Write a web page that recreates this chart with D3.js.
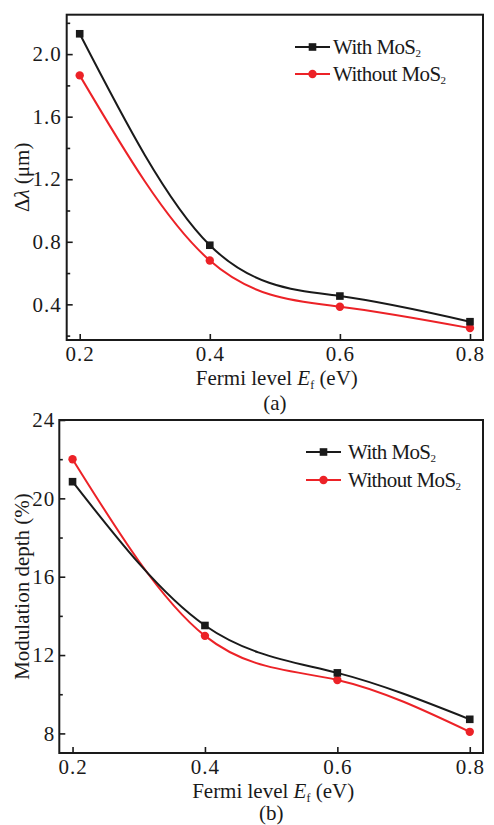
<html>
    <head>
        <style>
            body { margin: 0; background: #fff; }
            svg text { font-family: "Liberation Serif", "Times New Roman", serif; fill: #1a1a1a; }
            .axis path { display: none; }
            .axis line { stroke: #1a1a1a; stroke-width: 1.6; }
            .axis text { font-size: 21px; letter-spacing: 1px; }
            .box { fill: none; stroke: #1a1a1a; stroke-width: 2; }
        </style>
    </head>
    <body>
        <svg class="chart" width="494" height="825"></svg>
        <script src="https://d3js.org/d3.v7.min.js"></script>
        <script>
            // Fermi level (eV)
            var fermi = [0.2, 0.4, 0.6, 0.8];
            var xTicks = [0.2, 0.4, 0.6, 0.8];

            // (a) delta lambda (um)
            var dlWith = [2.13, 0.778, 0.453, 0.289];
            var dlWithout = [1.864, 0.68, 0.385, 0.248];
            var dlTicks = [0.4, 0.8, 1.2, 1.6, 2.0];
            var dlMinor = [0.2, 0.6, 1.0, 1.4, 1.8, 2.2];

            // (b) modulation depth (%)
            var mdWith = [20.85, 13.51, 11.09, 8.72];
            var mdWithout = [22.0, 12.98, 10.73, 8.08];
            var mdTicks = [8, 12, 16, 20, 24];
            var mdMinor = [10, 14, 18, 22];

            var seriesNames = ['With MoS', 'Without MoS'];
            var black = '#1a1a1a', red = '#ec2227';

            var svg = d3.select('.chart');

            function panel(opt) {
                var x = d3.scaleLinear().domain([0.18, 0.82]).range([opt.left, opt.right]);
                var y = d3.scaleLinear().domain(opt.yDomain).range([opt.bottom, opt.top]);
                var g = svg.append('g');

                // minor y ticks
                g.append('g').attr('class', 'axis')
                    .attr('transform', 'translate(' + opt.left + ',0)')
                    .call(d3.axisLeft(y).tickValues(opt.minor).tickSizeInner(-3.5).tickSizeOuter(0).tickFormat(''));

                g.append('g').attr('class', 'axis')
                    .attr('transform', 'translate(' + opt.left + ',0)')
                    .call(d3.axisLeft(y).tickValues(opt.ticks).tickSizeInner(-6).tickSizeOuter(0)
                        .tickPadding(opt.yPad).tickFormat(opt.fmt));

                g.append('g').attr('class', 'axis')
                    .attr('transform', 'translate(0,' + opt.bottom + ')')
                    .call(d3.axisBottom(x).tickValues(xTicks).tickSizeInner(-6).tickSizeOuter(0)
                        .tickPadding(6).tickFormat(d3.format('.1f')));

                g.append('rect').attr('class', 'box')
                    .attr('x', opt.left).attr('y', opt.top)
                    .attr('width', opt.right - opt.left).attr('height', opt.bottom - opt.top);

                var line = d3.line()
                    .x(function(d, i) { return x(fermi[i]); })
                    .y(function(d) { return y(d); })
                    .curve(d3.curveNatural);

                g.append('path').datum(opt.without)
                    .attr('d', line).attr('fill', 'none').attr('stroke', red).attr('stroke-width', 2);
                g.append('path').datum(opt.with)
                    .attr('d', line).attr('fill', 'none').attr('stroke', black).attr('stroke-width', 2);

                g.selectAll('.pt-r').data(opt.without).enter().append('circle')
                    .attr('cx', function(d, i) { return x(fermi[i]); })
                    .attr('cy', function(d) { return y(d); })
                    .attr('r', 4.2).attr('fill', red);
                g.selectAll('.pt-b').data(opt.with).enter().append('rect')
                    .attr('x', function(d, i) { return x(fermi[i]) - 3.8; })
                    .attr('y', function(d) { return y(d) - 3.8; })
                    .attr('width', 7.6).attr('height', 7.6).attr('fill', black);

                // x title
                var xt = g.append('text').attr('x', (opt.left + opt.right) / 2 + 2).attr('y', opt.bottom + 45)
                    .attr('text-anchor', 'middle').style('font-size', '21px');
                xt.append('tspan').text('Fermi level ');
                xt.append('tspan').style('font-style', 'italic').text('E');
                xt.append('tspan').attr('dy', '0.3em').style('font-size', '12px').text('f');
                xt.append('tspan').attr('dy', '-0.18em').text(' (eV)');

                g.append('text').attr('x', (opt.left + opt.right) / 2).attr('y', opt.bottom + opt.tagDy)
                    .attr('text-anchor', 'middle').style('font-size', '21px').text(opt.tag);

                // y title
                var yt = g.append('text')
                    .attr('transform', 'translate(29,' + (opt.top + opt.bottom) / 2 + ') rotate(-90)')
                    .attr('text-anchor', 'middle').style('font-size', '21px');
                opt.yTitle(yt);

                // legend
                var cols = [black, red];
                seriesNames.forEach(function(name, i) {
                    var ly = opt.legY + i * opt.legGap;
                    g.append('line').attr('x1', opt.legX).attr('x2', opt.legX + 35)
                        .attr('y1', ly).attr('y2', ly).attr('stroke', cols[i]).attr('stroke-width', 2);
                    if (i === 0) {
                        g.append('rect').attr('x', opt.legX + 17.5 - 3.8).attr('y', ly - 3.8)
                            .attr('width', 7.6).attr('height', 7.6).attr('fill', black);
                    } else {
                        g.append('circle').attr('cx', opt.legX + 17.5).attr('cy', ly).attr('r', 4.2).attr('fill', red);
                    }
                    var t = g.append('text').attr('x', opt.legX + opt.legText).attr('y', ly + 7)
                        .style('font-size', '21px').style('letter-spacing', '-0.6px');
                    t.append('tspan').text(name);
                    t.append('tspan').attr('dy', '0.3em').style('font-size', '11px').text('2');
                });
            }

            panel({
                left: 66.7, right: 483, top: 14.7, bottom: 340,
                yDomain: [0.172, 2.252], ticks: dlTicks, minor: dlMinor, fmt: d3.format('.1f'), yPad: 5,
                with: dlWith, without: dlWithout, tag: '(a)', tagDy: 70,
                legX: 295, legY: 47, legGap: 27, legText: 38,
                yTitle: function(t) {
                    t.append('tspan').text('\u0394');
                    t.append('tspan').style('font-style', 'italic').text('\u03bb');
                    t.append('tspan').text(' (\u03bcm)');
                }
            });

            panel({
                left: 59.3, right: 483, top: 420, bottom: 753,
                yDomain: [7, 24], ticks: mdTicks, minor: mdMinor, fmt: d3.format('d'), yPad: 4,
                with: mdWith, without: mdWithout, tag: '(b)', tagDy: 67,
                legX: 306, legY: 452, legGap: 28, legText: 42,
                yTitle: function(t) { t.text('Modulation depth (%)'); }
            });
        </script>
    </body>
</html>
